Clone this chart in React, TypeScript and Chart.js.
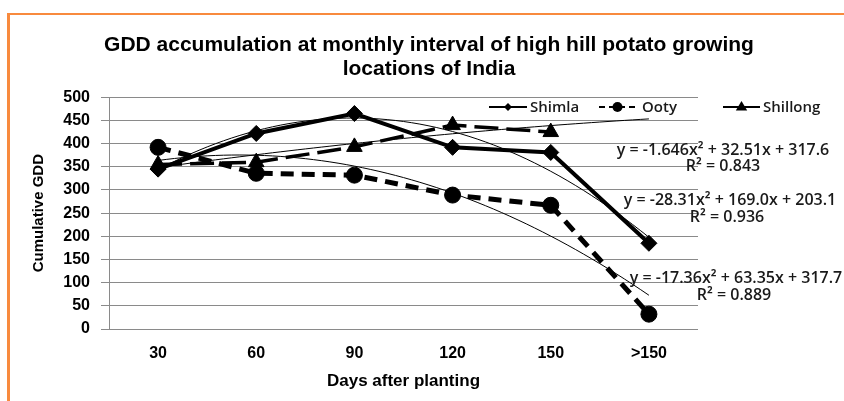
import React, { useEffect, useRef } from 'react';
import { Chart, registerables } from 'chart.js';

Chart.register(...registerables);

// ---- data ----
const categories = ['30', '60', '90', '120', '150', '>150'];
const seriesNames = ['Shimla', 'Ooty', 'Shillong'];
const shimla = [345, 422, 465, 392, 381, 185];
const ooty = [392, 336, 332, 289, 267, 32];
const shillong = [355, 360, 393, 440, 425];
const yMin = 0;
const yMax = 500;
const yStep = 50;
// polynomial (order 2) trendline coefficients [a, b, c] : y = a x^2 + b x + c
const shimlaTrend = [-28.31, 169.0, 203.1];
const ootyTrend = [-17.36, 63.35, 317.7];
const shillongTrend = [-1.646, 32.51, 317.6];
const shimlaR2 = 0.936;
const ootyR2 = 0.889;
const shillongR2 = 0.843;

const TITLE = ['GDD accumulation at monthly interval of high hill potato growing', 'locations of India'];
const X_TITLE = 'Days after planting';
const Y_TITLE = 'Cumulative GDD';

const SANS = "'Liberation Sans', Arial, sans-serif";
const CAL = "'Open Sans', 'Liberation Sans', sans-serif";

const toPoints = (vals: number[]) => vals.map((v, i) => ({ x: i + 1, y: v }));
const trendPoints = (c: number[], from: number, to: number) => {
  const pts: { x: number; y: number }[] = [];
  const n = 60;
  for (let i = 0; i <= n; i++) {
    const x = from + ((to - from) * i) / n;
    pts.push({ x, y: c[0] * x * x + c[1] * x + c[2] });
  }
  return pts;
};
const fmt = (v: number) => v.toPrecision(4);
const eqText = (c: number[]) =>
  `y = ${fmt(c[0])}x\u00B2 ${c[1] < 0 ? '-' : '+'} ${fmt(Math.abs(c[1]))}x ${c[2] < 0 ? '-' : '+'} ${fmt(Math.abs(c[2]))}`;

function drawMarker(ctx: CanvasRenderingContext2D, style: string, x: number, y: number, r: number) {
  ctx.beginPath();
  if (style === 'rectRot') {
    ctx.moveTo(x, y - r);
    ctx.lineTo(x + r, y);
    ctx.lineTo(x, y + r);
    ctx.lineTo(x - r, y);
    ctx.closePath();
  } else if (style === 'triangle') {
    ctx.moveTo(x, y - r);
    ctx.lineTo(x + r * 0.95, y + r * 0.6);
    ctx.lineTo(x - r * 0.95, y + r * 0.6);
    ctx.closePath();
  } else {
    ctx.arc(x, y, r, 0, Math.PI * 2);
  }
  ctx.fill();
}

const framePlugin = {
  id: 'frame',
  beforeDraw(chart: any) {
    const ctx = chart.ctx;
    ctx.save();
    ctx.fillStyle = '#ffffff';
    ctx.fillRect(0, 0, chart.width, chart.height);
    ctx.fillStyle = '#F88A3E';
    ctx.fillRect(7, 13, chart.width - 7, 2);
    ctx.fillRect(7, 13, 3, chart.height - 13);
    ctx.restore();
  },
};

const legendPlugin = {
  id: 'customLegend',
  afterDraw(chart: any) {
    const ctx = chart.ctx;
    const y = 107;
    const items = [
      { ds: 0, x1: 489, x2: 527, tx: 530, r: 4, dash: [] as number[] },
      { ds: 1, x1: 599, x2: 636, tx: 642, r: 5, dash: [6, 4] },
      { ds: 2, x1: 723, x2: 760, tx: 763, r: 6, dash: [] as number[] },
    ];
    ctx.save();
    items.forEach((it) => {
      const ds = chart.data.datasets[it.ds];
      ctx.strokeStyle = '#000';
      ctx.lineWidth = 2;
      ctx.setLineDash(it.dash);
      ctx.beginPath();
      ctx.moveTo(it.x1, y);
      ctx.lineTo(it.x2, y);
      ctx.stroke();
      ctx.setLineDash([]);
      ctx.fillStyle = '#000';
      drawMarker(ctx, ds.pointStyle, (it.x1 + it.x2) / 2, y, it.r);
      ctx.fillStyle = '#1a1a1a';
      ctx.font = `600 15px ${CAL}`;
      ctx.textAlign = 'left';
      ctx.textBaseline = 'middle';
      ctx.fillText(ds.label, it.tx, y + 1);
    });
    ctx.restore();
  },
};

const equationPlugin = {
  id: 'equations',
  afterDraw(chart: any) {
    const ctx = chart.ctx;
    const labels = [
      { c: shillongTrend, r2: shillongR2, x: 723, y: 150, rx: 723, ry: 166 },
      { c: shimlaTrend, r2: shimlaR2, x: 730, y: 200, rx: 727, ry: 217 },
      { c: ootyTrend, r2: ootyR2, x: 736, y: 278, rx: 734, ry: 295 },
    ];
    ctx.save();
    ctx.fillStyle = '#1a1a1a';
    ctx.font = `600 16px ${CAL}`;
    ctx.textAlign = 'center';
    ctx.textBaseline = 'middle';
    labels.forEach((l) => {
      ctx.fillText(eqText(l.c), l.x, l.y);
      ctx.fillText(`R\u00B2 = ${l.r2.toFixed(3)}`, l.rx, l.ry);
    });
    ctx.restore();
  },
};

export default function App() {
  const ref = useRef<HTMLCanvasElement | null>(null);

  useEffect(() => {
    document.body.style.margin = '0';
    const canvas = ref.current;
    if (!canvas) return;
    const lineBase = {
      borderColor: '#000',
      backgroundColor: '#000',
      pointBackgroundColor: '#000',
      pointBorderColor: '#000',
      pointBorderWidth: 1,
      tension: 0,
      fill: false,
      xAxisID: 'x',
      yAxisID: 'y',
    };
    const trendBase = {
      borderColor: '#000',
      borderWidth: 1,
      pointRadius: 0,
      tension: 0,
      fill: false,
      xAxisID: 'x',
      yAxisID: 'y',
    };
    const chart = new Chart(canvas, {
      type: 'line',
      data: {
        datasets: [
          {
            ...lineBase,
            label: seriesNames[0],
            data: toPoints(shimla),
            borderWidth: 4,
            pointStyle: 'rectRot',
            pointRadius: 8,
            order: 1,
          },
          {
            ...lineBase,
            label: seriesNames[1],
            data: toPoints(ooty),
            borderWidth: 5,
            borderDash: [13, 8],
            pointStyle: 'circle',
            pointRadius: 8,
            order: 2,
          },
          {
            ...lineBase,
            label: seriesNames[2],
            data: toPoints(shillong),
            borderWidth: 3.5,
            borderDash: [24, 8],
            pointStyle: 'triangle',
            pointRadius: 9,
            order: 3,
          },
          { ...trendBase, label: 'trend1', data: trendPoints(shimlaTrend, 1, 6), order: 0 },
          { ...trendBase, label: 'trend2', data: trendPoints(ootyTrend, 1, 6), order: 0 },
          { ...trendBase, label: 'trend3', data: trendPoints(shillongTrend, 1, 6), order: 0 },
        ] as any,
      },
      options: {
        responsive: false,
        animation: false,
        devicePixelRatio: 1,
        layout: { padding: { left: 14, right: 0, top: 0, bottom: 0 } },
        plugins: {
          legend: { display: false },
          tooltip: { enabled: false },
          title: {
            display: true,
            text: TITLE,
            color: '#000',
            font: { family: SANS, size: 21, weight: 'bold', lineHeight: 1.15 },
            padding: { top: 33, bottom: 16 },
          },
        },
        scales: {
          x: {
            type: 'linear',
            position: 'bottom',
            min: 0.5,
            max: categories.length + 0.5,
            afterBuildTicks: (s: any) => {
              s.ticks = categories.map((_, i) => ({ value: i + 1 }));
            },
            afterFit: (s: any) => {
              s.height = 72;
            },
            grid: { display: false, drawTicks: false },
            border: { display: false },
            ticks: {
              padding: 15,
              color: '#000',
              font: { family: SANS, size: 16, weight: 'bold' },
              callback: (v: any) => categories[Math.round(Number(v)) - 1] ?? '',
              autoSkip: false,
              maxRotation: 0,
            },
            title: {
              display: true,
              text: X_TITLE,
              color: '#000',
              font: { family: SANS, size: 17, weight: 'bold', lineHeight: 1.2 },
              padding: { top: 0, bottom: 9 },
            },
          },
          y: {
            type: 'linear',
            position: 'left',
            min: yMin,
            max: yMax,
            afterFit: (s: any) => {
              s.width = 95;
            },
            grid: { color: '#8a8a8a', lineWidth: 1, tickLength: 8, drawTicks: true },
            border: { display: true, color: '#8a8a8a', width: 1 },
            ticks: {
              stepSize: yStep,
              padding: 11,
              color: '#000',
              font: { family: SANS, size: 16, weight: 'bold' },
            },
            title: {
              display: true,
              text: Y_TITLE,
              color: '#000',
              font: { family: SANS, size: 15, weight: 'bold', lineHeight: 1.2 },
              padding: { top: 16, bottom: 0 },
            },
          },
          yR: {
            type: 'linear',
            position: 'right',
            display: true,
            afterFit: (s: any) => {
              s.width = 146;
            },
            grid: { display: false, drawTicks: false },
            border: { display: false },
            ticks: { display: false },
          },
        },
      } as any,
      plugins: [framePlugin, legendPlugin, equationPlugin],
    });
    return () => chart.destroy();
  }, []);

  return (
    <div style={{ width: 844, height: 401 }}>
      <canvas ref={ref} width={844} height={401} style={{ display: 'block', width: 844, height: 401 }} />
    </div>
  );
}
